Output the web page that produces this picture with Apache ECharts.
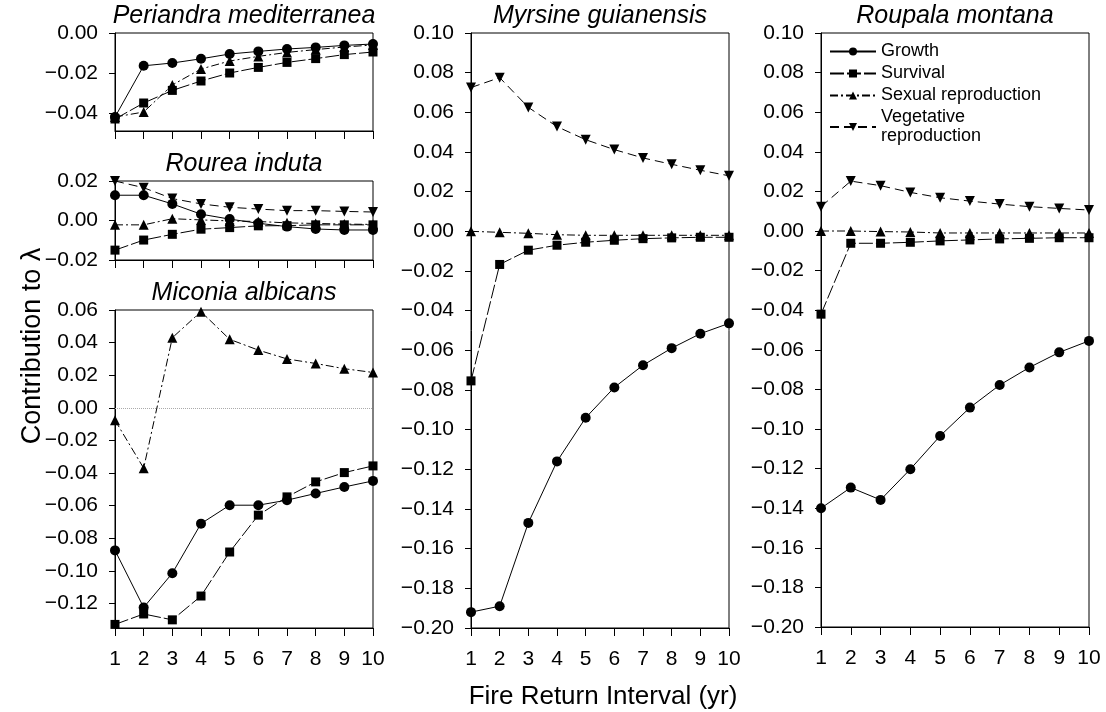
<!DOCTYPE html>
<html>
<head>
<meta charset="utf-8">
<script src="https://cdn.jsdelivr.net/npm/echarts@6/dist/echarts.min.js"></script>
<style>
  html, body { margin: 0; padding: 0; background: #fff; }
  #main { width: 1106px; height: 712px; }
</style>
</head>
<body>
<div id="main"></div>
<script>
// fire return interval (yr)
var years = [1, 2, 3, 4, 5, 6, 7, 8, 9, 10];

// Periandra mediterranea
var periGrowth = [-0.042, -0.0164, -0.015, -0.0129, -0.0105, -0.0092, -0.008, -0.0072, -0.0062, -0.0055];
var periSurvival = [-0.043, -0.035, -0.0287, -0.024, -0.020, -0.0172, -0.0147, -0.0128, -0.0108, -0.0095];
var periSexual = [-0.042, -0.0395, -0.026, -0.018, -0.014, -0.0117, -0.0097, -0.0083, -0.007, -0.006];

// Rourea induta
var rourGrowth = [0.0128, 0.0128, 0.0084, 0.0032, 0.0007, -0.0014, -0.0031, -0.0043, -0.0048, -0.0048];
var rourSurvival = [-0.015, -0.0099, -0.007, -0.0044, -0.0036, -0.0027, -0.0026, -0.0022, -0.0022, -0.0022];
var rourSexual = [-0.0022, -0.0022, 0.0009, 0.0003, -0.0002, -0.0005, -0.0012, -0.0015, -0.0018, -0.002];
var rourVegetative = [0.020, 0.0166, 0.0111, 0.0084, 0.0067, 0.0058, 0.005, 0.005, 0.0046, 0.0043];

// Miconia albicans
var micoGrowth = [-0.0874, -0.1224, -0.1014, -0.071, -0.0597, -0.0597, -0.0566, -0.0525, -0.0485, -0.0448];
var micoSurvival = [-0.1328, -0.1264, -0.130, -0.1154, -0.0884, -0.0658, -0.0546, -0.0454, -0.0397, -0.0356];
var micoSexual = [-0.0076, -0.037, 0.043, 0.059, 0.042, 0.0354, 0.030, 0.0272, 0.024, 0.0217];

// Myrsine guianensis
var myrsGrowth = [-0.192, -0.189, -0.147, -0.116, -0.094, -0.0787, -0.0675, -0.0589, -0.0516, -0.0464];
var myrsSurvival = [-0.0754, -0.0167, -0.0095, -0.007, -0.0055, -0.0045, -0.0037, -0.0033, -0.003, -0.003];
var myrsSexual = [0, -0.0005, -0.001, -0.0017, -0.002, -0.002, -0.002, -0.002, -0.002, -0.002];
var myrsVegetative = [0.0725, 0.0775, 0.0625, 0.0528, 0.0462, 0.0412, 0.037, 0.0338, 0.0308, 0.028];

// Roupala montana
var roupGrowth = [-0.14, -0.1296, -0.1358, -0.1203, -0.1035, -0.0892, -0.0778, -0.0689, -0.0613, -0.0555];
var roupSurvival = [-0.042, -0.0062, -0.0062, -0.0057, -0.005, -0.0045, -0.004, -0.0037, -0.0034, -0.0034];
var roupSexual = [0, 0, -0.0003, -0.0005, -0.001, -0.001, -0.001, -0.001, -0.001, -0.001];
var roupVegetative = [0.0123, 0.0252, 0.0229, 0.0195, 0.0168, 0.0151, 0.0136, 0.0123, 0.0114, 0.0106];

// y tick labels
var periTicks = [-0.04, -0.02, 0.00];
var micoTicks = [-0.12, -0.10, -0.08, -0.06, -0.04, -0.02, 0.00, 0.02, 0.04, 0.06];

var FONT = 'Liberation Sans, Arial, Helvetica, sans-serif';

function fmt(v) {
    var s = Math.abs(v) < 1e-9 ? '0.00' : v.toFixed(2);
    return s.replace('-', '\u2212');
}

function pairs(arr) {
    return years.map(function (x, i) { return [x, arr[i]]; });
}

var styles = {
    'Growth': { symbol: 'circle', size: 10, rotate: 0, type: 'solid' },
    'Survival': { symbol: 'rect', size: 9, rotate: 0, type: [14, 3] },
    'Sexual reproduction': { symbol: 'triangle', size: 10, rotate: 0, type: [8, 3, 2, 3] },
    'Vegetative\nreproduction': { symbol: 'triangle', size: 10, rotate: 180, type: [9, 5] }
};

function line(name, arr, idx, extra) {
    var st = styles[name];
    var s = {
        name: name,
        type: 'line',
        xAxisIndex: idx,
        yAxisIndex: idx,
        data: pairs(arr),
        symbol: st.symbol,
        symbolSize: st.size,
        symbolRotate: st.rotate,
        clip: false,
        animation: false,
        lineStyle: { color: '#000', width: 1, type: st.type },
        itemStyle: { color: '#000' }
    };
    if (extra) { for (var k in extra) s[k] = extra[k]; }
    return s;
}

var grids = [
    { left: 115, top: 33, width: 258, height: 98 },   // Periandra
    { left: 115, top: 181, width: 258, height: 79 },  // Rourea
    { left: 115, top: 310, width: 258, height: 318 }, // Miconia
    { left: 471, top: 33, width: 258, height: 595 },  // Myrsine
    { left: 821, top: 33, width: 268, height: 594 }   // Roupala
].map(function (g) {
    g.show = true;
    g.borderColor = '#000';
    g.borderWidth = 1;
    return g;
});

function xAxis(idx, labels) {
    return {
        type: 'value', gridIndex: idx, min: 1, max: 10, interval: 1,
        axisLine: { onZero: false, lineStyle: { color: '#000', width: 1 } },
        axisTick: { length: 8, lineStyle: { color: '#000' } },
        splitLine: { show: false },
        axisLabel: { show: labels, color: '#000', fontSize: 21, fontFamily: FONT, margin: 21 }
    };
}

function yAxis(idx, min, max, ticks) {
    var a = {
        type: 'value', gridIndex: idx, min: min, max: max,
        axisLine: { show: true, onZero: false, lineStyle: { color: '#000', width: 1 } },
        axisTick: { show: true, length: 6, lineStyle: { color: '#000' } },
        splitLine: { show: false },
        axisLabel: { color: '#000', fontSize: 21, fontFamily: FONT, margin: 17, formatter: fmt }
    };
    if (ticks) {
        a.axisTick.customValues = ticks;
        a.axisLabel.customValues = ticks;
    } else {
        a.interval = 0.02;
    }
    return a;
}

var series = [
    line('Growth', periGrowth, 0),
    line('Survival', periSurvival, 0),
    line('Sexual reproduction', periSexual, 0),

    line('Growth', rourGrowth, 1),
    line('Survival', rourSurvival, 1),
    line('Sexual reproduction', rourSexual, 1),
    line('Vegetative\nreproduction', rourVegetative, 1),

    line('Growth', micoGrowth, 2),
    line('Survival', micoSurvival, 2),
    line('Sexual reproduction', micoSexual, 2, {
        markLine: {
            silent: true, symbol: 'none', animation: false,
            label: { show: false },
            lineStyle: { color: '#aaa', type: 'dotted', width: 1 },
            data: [{ yAxis: 0 }]
        }
    }),

    line('Growth', myrsGrowth, 3),
    line('Survival', myrsSurvival, 3),
    line('Sexual reproduction', myrsSexual, 3),
    line('Vegetative\nreproduction', myrsVegetative, 3),

    line('Growth', roupGrowth, 4),
    line('Survival', roupSurvival, 4),
    line('Sexual reproduction', roupSexual, 4),
    line('Vegetative\nreproduction', roupVegetative, 4)
];

function label(text, x, y, size, italic, rot) {
    return {
        type: 'text', x: x, y: y, rotation: rot || 0, silent: true,
        style: {
            text: text, fill: '#000', fontSize: size, fontFamily: FONT,
            fontStyle: italic ? 'italic' : 'normal',
            align: 'center', verticalAlign: 'middle'
        }
    };
}

var myChart = echarts.init(document.getElementById('main'));
var option = {
    backgroundColor: '#fff',
    animation: false,
    grid: grids,
    xAxis: [xAxis(0, false), xAxis(1, false), xAxis(2, true), xAxis(3, true), xAxis(4, true)],
    yAxis: [
        yAxis(0, -0.049, 0, periTicks),
        yAxis(1, -0.02, 0.02),
        yAxis(2, -0.135, 0.06, micoTicks),
        yAxis(3, -0.2, 0.1),
        yAxis(4, -0.2, 0.1)
    ],
    legend: {
        data: ['Growth', 'Survival', 'Sexual reproduction', 'Vegetative\nreproduction'],
        orient: 'vertical',
        left: 829, top: 42, padding: 0,
        itemWidth: 46, itemHeight: 10, itemGap: 3,
        selectedMode: false,
        textStyle: { color: '#000', fontSize: 18, lineHeight: 19, fontFamily: FONT }
    },
    graphic: [
        label('Periandra mediterranea', 244, 16, 25, true),
        label('Rourea induta', 244, 164, 25, true),
        label('Miconia albicans', 244, 293, 25, true),
        label('Myrsine guianensis', 600, 16, 25, true),
        label('Roupala montana', 955, 16, 25, true),
        label('Contribution to \u03bb', 33, 346, 27, false, Math.PI / 2),
        label('Fire Return Interval (yr)', 603, 697, 26, false)
    ],
    series: series
};
myChart.setOption(option);
</script>
</body>
</html>
